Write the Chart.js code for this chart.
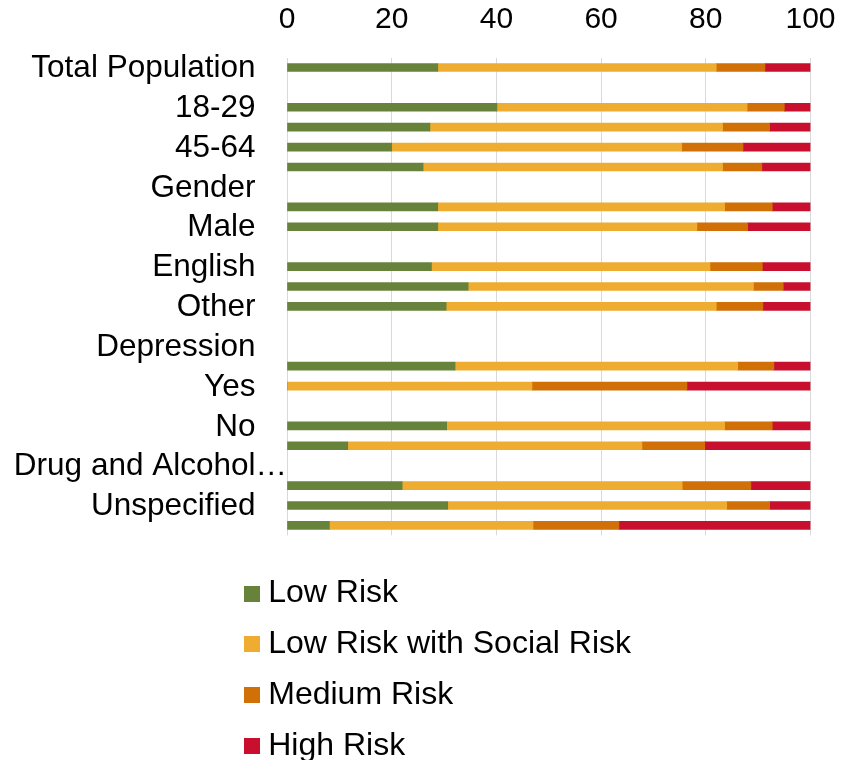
<!DOCTYPE html>
<html>
<head>
<meta charset="utf-8">
<script src="https://cdn.jsdelivr.net/npm/chart.js@4.4.1/dist/chart.umd.min.js"></script>
<style>
  html, body { margin: 0; padding: 0; background: #fff; overflow: hidden; }
  #wrap { position: relative; width: 843px; height: 760px; }
</style>
</head>
<body>
<div id="wrap"><canvas id="risk"></canvas></div>
<script>
// Row labels (group headers have no bar)
const categories = [
  'Total Population', 'Age', '18-29', '30-44', '45-64', '65+',
  'Gender', 'Female', 'Male',
  'Language', 'English', 'Spanish', 'Other',
  'Behavioral Health', 'Depression', 'No', 'Yes',
  'Anxiety', 'No', 'Yes',
  'Drug and Alcohol Use', 'No', 'Unspecified', 'Yes'
];

// Share of each group in each risk tier (%)
const lowRisk = [28.8, null, 40.1, 27.3, 20.0, 26.0, null, 28.8, 28.8, null, 27.6, 34.6, 30.4, null, null, 32.1, 0, null, 30.5, 11.6, null, 22.0, 30.7, 8.1];
const lowRiskSocial = [53.2, null, 47.8, 55.9, 55.4, 57.2, null, 54.8, 49.5, null, 53.2, 54.5, 51.6, null, null, 54.0, 46.8, null, 53.1, 56.2, null, 53.5, 53.3, 38.9];
const mediumRisk = [9.3, null, 7.1, 9.0, 11.7, 7.5, null, 9.1, 9.7, null, 10.0, 5.7, 8.9, null, null, 6.9, 29.6, null, 9.1, 12.0, null, 13.1, 8.2, 16.4];
const highRisk = [8.7, null, 5.0, 7.8, 12.9, 9.3, null, 7.3, 12.0, null, 9.2, 5.2, 9.1, null, null, 7.0, 23.6, null, 7.3, 20.2, null, 11.4, 7.8, 36.6];

const seriesNames = ['Low Risk', 'Low Risk with Social Risk', 'Medium Risk', 'High Risk'];
const xTicks = [0, 20, 40, 60, 80, 100];

const colors = ['#67823A', '#EEAD30', '#D07006', '#C8102E'];
const FAMILY = '"Liberation Sans", Arial, sans-serif';
const LEGEND_SIZE = 32;
const YLABEL_SIZE = 31.5;

Chart.defaults.font.family = FAMILY;
Chart.defaults.color = '#000';

// every other row is labelled; long labels are cut with an ellipsis
function yTickText(label, index) {
  if (index % 2 !== 0) return '';
  if (label.length > 16) return label.slice(0, 16) + '\u2026';
  return label + '\u2002\u2002';
}

// widest row label, so the labels can be right-aligned on the axis line
const measureCtx = document.createElement('canvas').getContext('2d');
measureCtx.font = YLABEL_SIZE + 'px ' + FAMILY;
const widestLabel = Math.max(...categories.map((l, i) => measureCtx.measureText(yTickText(l, i)).width));

// small square swatch used as the legend marker
function swatch(color) {
  const c = document.createElement('canvas');
  c.width = 16; c.height = 16;
  const g = c.getContext('2d');
  g.fillStyle = color;
  g.fillRect(0, 0, 16, 16);
  return c;
}

const seriesValues = [lowRisk, lowRiskSocial, mediumRisk, highRisk];
const datasets = seriesNames.map((name, i) => ({
  label: name,
  data: seriesValues[i],
  backgroundColor: colors[i],
  borderWidth: 0,
  barThickness: 8
}));

new Chart(document.getElementById('risk'), {
  type: 'bar',
  data: { labels: categories, datasets },
  options: {
    indexAxis: 'y',
    responsive: true,
    maintainAspectRatio: false,
    animation: false,
    layout: { padding: { top: -17.5, right: 32.5, bottom: -12.2, left: 232.85 } },
    scales: {
      x: {
        position: 'top',
        stacked: true,
        min: 0,
        max: 100,
        afterBuildTicks(scale) { scale.ticks = xTicks.map(v => ({ value: v })); },
        ticks: { font: { size: 30, lineHeight: 2.5 }, color: '#000', padding: 0 },
        grid: { color: '#d9d9d9', lineWidth: 1, drawTicks: false },
        border: { display: false }
      },
      y: {
        stacked: true,
        afterFit(scale) { scale.width = 54.15; },
        grid: { display: false },
        border: { display: false },
        ticks: {
          autoSkip: false,
          mirror: true,
          crossAlign: 'far',
          padding: -widestLabel,
          labelOffset: 1,
          font: { size: YLABEL_SIZE },
          color: '#000',
          callback(value, index) {
            return yTickText(this.getLabelForValue(value), index);
          }
        }
      }
    },
    plugins: {
      tooltip: { enabled: false },
      legend: {
        position: 'bottom',
        align: 'start',
        title: { display: true, text: '', font: { size: 20, lineHeight: 1 }, padding: { top: 3.2, bottom: 0 } },
        labels: {
          usePointStyle: true,
          boxWidth: 0.5,
          padding: 18.9,
          color: '#000',
          font: { size: LEGEND_SIZE },
          generateLabels(chart) {
            const items = Chart.defaults.plugins.legend.labels.generateLabels(chart);
            const ctx = chart.ctx;
            ctx.save();
            ctx.font = LEGEND_SIZE + 'px ' + FAMILY;
            const widths = items.map(it => ctx.measureText(it.text).width);
            const widest = Math.max(...widths);
            const sp = ctx.measureText(' ').width;
            // equal-width entries so every entry sits on its own row
            items.forEach((it, i) => {
              it.text = it.text + ' '.repeat(Math.ceil((widest - widths[i]) / sp) + 1);
              it.pointStyle = swatch(colors[i]);
            });
            ctx.restore();
            return items;
          }
        }
      }
    }
  }
});
</script>
</body>
</html>
